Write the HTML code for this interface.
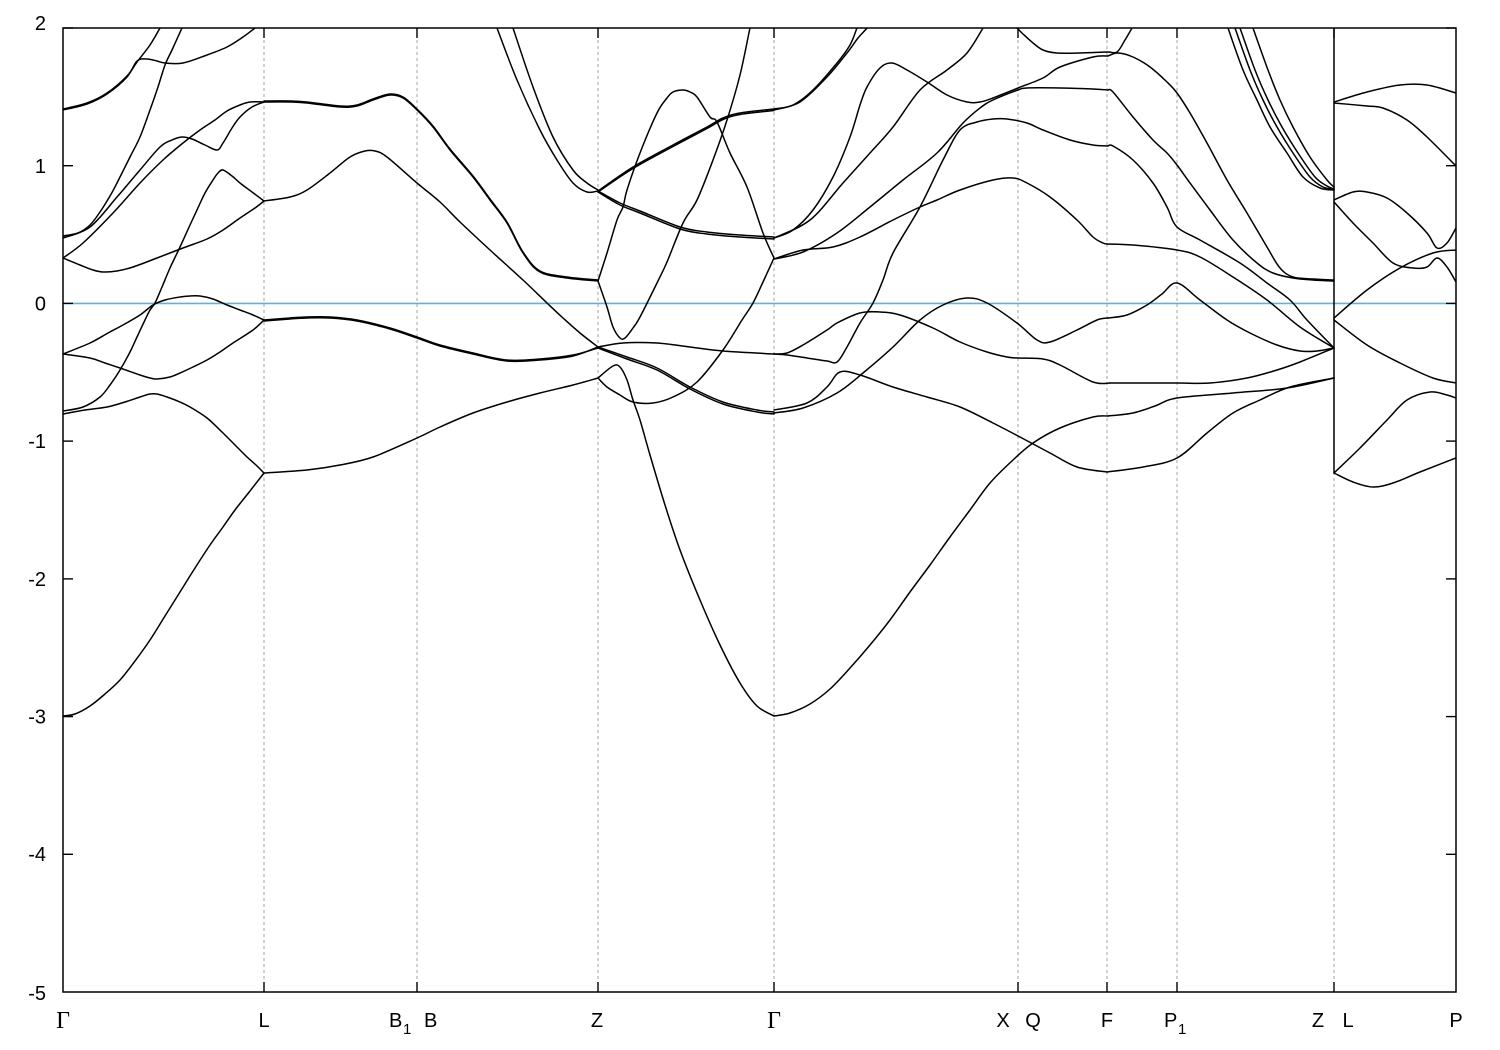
<!DOCTYPE html>
<html>
<head>
<meta charset="utf-8">
<style>
  html,body{margin:0;padding:0;background:#fff;}
  svg{display:block;}
  .lbl{font-family:"Liberation Sans",Arial,sans-serif;font-size:20px;fill:#000;}
  .sub{font-family:"Liberation Sans",Arial,sans-serif;font-size:15px;fill:#000;}
  .sym{font-family:"Liberation Serif","Times New Roman",serif;font-size:24px;fill:#000;}
  .b{fill:none;stroke:#000;stroke-width:1.5;stroke-linejoin:round;stroke-linecap:round;}
  .g{stroke:#a0a0a0;stroke-width:1;stroke-dasharray:3,3;}
</style>
</head>
<body>
<svg width="1500" height="1050" viewBox="0 0 1500 1050" xmlns="http://www.w3.org/2000/svg">
  <defs>
    <clipPath id="pc"><rect x="63" y="28" width="1393" height="964"/></clipPath>
  </defs>
  <rect width="1500" height="1050" fill="#fff"/>

  <!-- grid lines -->
  <g class="g">
    <line x1="264" y1="28" x2="264" y2="992"/>
    <line x1="417" y1="28" x2="417" y2="992"/>
    <line x1="598" y1="28" x2="598" y2="992"/>
    <line x1="774" y1="28" x2="774" y2="992"/>
    <line x1="1018" y1="28" x2="1018" y2="992"/>
    <line x1="1107" y1="28" x2="1107" y2="992"/>
    <line x1="1177" y1="28" x2="1177" y2="992"/>
    <line x1="1334" y1="28" x2="1334" y2="992"/>
  </g>

  <!-- zero line -->
  <line x1="63" y1="303.4" x2="1456" y2="303.4" stroke="#56b4e9" stroke-width="1.6"/>

  <g clip-path="url(#pc)" class="b" id="bands">
    <!-- Gamma - L -->
    <polyline points="63,109 87,103 107,93 127,76 137,62 150,45 160,28 163,22"/>
    <polyline points="63,110 87,104 107,94 127,77 137,61 147,59 157,61 165,63 183,63 207,55 227,47 243,37 255,28 260,24"/>
    <polyline points="63,236 78,233 90,225 100,212 110,196 117,183 130,157 140,137 150,110 158,87 165,65 172,50 182,28 185,22"/>
    <polyline points="63,238 90,227 117,197 140,170 160,147 172,140 182,137 192,139 205,145 217,150 223,143 232,128 240,117 252,107 264,102"/>
    <polyline points="63,258 83,243 113,213 140,183 163,160 183,143 200,130 215,120 227,111 240,105 250,102 264,102"/>
    <polyline points="63,258 80,265 93,270 103,272 117,271 133,267 157,258 183,248 207,239 223,230 240,218 255,208 264,201"/>
    <polyline points="63,411 83,407 100,397 110,385 120,370 130,352 137,337 145,320 150,310 155,303 162,287 170,268 180,247 190,225 197,210 205,193 213,180 218,173 223,170 232,176 240,183 252,192 264,201"/>
    <polyline points="63,354 90,343 108,333 123,325 140,315 153,305 165,300 180,297 190,296 200,296 213,299 227,305 240,310 253,315 264,320"/>
    <polyline points="63,354 90,358 105,363 120,368 140,375 150,378 157,379 170,377 180,373 193,367 207,360 220,352 233,343 253,330 264,320"/>
    <polyline points="63,414 85,410 107,407 125,402 140,397 150,394 157,394 167,397 180,402 190,407 207,418 223,433 235,445 247,457 256,465 264,473"/>
    <polyline points="63,716 75,714 90,706 105,694 120,680 135,661 150,640 165,616 180,592 195,568 210,545 223,527 235,510 250,491 264,473"/>

    <!-- L - B - Z -->
    <polyline points="264,102 290,102 307,103 340,107 357,106 373,100 390,95 403,98 417,110 433,127 450,150 473,177 490,200 507,223 523,253 540,272 567,278 598,281"/>
    <polyline points="264,101 290,101 307,102 340,106 357,105 373,99 390,94 403,97 417,109 433,126 450,149 473,176 490,199 507,222 523,252 540,271 567,277 598,280"/>
    <polyline points="264,201 290,197 307,190 330,173 350,157 365,151 375,151 387,157 417,183 440,202 460,222 490,250 523,280 547,303 563,318 580,333 598,347"/>
    <polyline points="264,320 290,318 307,317 330,317 357,320 390,328 417,337 440,345 473,353 507,360 540,359 573,355 598,348"/>
    <polyline points="264,321 290,319 307,318 330,318 357,321 390,329 417,338 440,346 473,354 507,361 540,360 573,356 598,347"/>
    <polyline points="264,473 307,470 340,465 373,457 417,438 440,427 473,413 507,402 540,393 573,385 598,378"/>
    <polyline points="495,22 497,28 517,80 540,130 557,160 573,183 587,192 598,191"/>
    <polyline points="511,22 513,28 533,87 553,137 573,170 587,183 598,190"/>

    <!-- Z - Gamma -->
    <polyline points="598,191 633,167 673,145 707,127 723,118 740,113 774,109"/>
    <polyline points="598,192 633,168.5 673,146.5 707,128.5 723,119.5 740,114.5 774,110.5"/>
    <polyline points="598,191 620,203 640,211 680,227 707,232 740,235 774,237"/>
    <polyline points="598,192 620,205 640,213 680,229 707,234 740,237 774,239"/>
    <polyline points="598,281 607,253 617,220 623,207 627,190 640,153 657,113 667,98 673,92 683,90 690,92 697,97 710,117 717,122 730,153 747,187 763,233 774,258"/>
    <polyline points="598,281 607,307 613,327 620,338 625,338 633,328 640,317 657,283 667,262 683,223 697,200 713,160 727,120 740,75 750,28 752,22"/>
    <polyline points="598,347 623,343 657,343 690,347 723,351 774,354"/>
    <polyline points="598,347 627,357 657,368 690,387 723,402 757,410 774,412"/>
    <polyline points="598,348 627,359 657,370 690,389 723,404 757,412 774,414"/>
    <polyline points="598,378 613,366 620,367 627,380 633,400 640,420 650,455 665,505 680,550 700,600 720,645 740,683 757,706 774,716"/>
    <polyline points="598,378 607,387 620,395 633,402 653,403 673,397 697,382 723,350 742,320 753,303 763,282 774,258"/>

    <!-- Gamma - X - F -->
    <polyline points="774,109 793,105 813,90 837,63 850,45 857,28 860,22"/>
    <polyline points="774,110 800,102 827,77 847,53 858,38 867,28 870,22"/>
    <polyline points="774,238 793,230 813,210 833,177 850,137 860,105 867,87 880,68 892,63 907,70 927,82 947,95 967,102 980,102 993,98 1018,88 1043,78 1060,67 1093,57 1108,56"/>
    <polyline points="774,238 810,220 843,183 870,153 893,127 920,90 947,70 967,53 983,28 986,22"/>
    <polyline points="774,259 803,250 833,247 860,237 893,220 920,207 937,200 960,190 993,180 1013,178 1027,183 1050,197 1077,220 1093,237 1103,243 1107,244"/>
    <polyline points="774,259 803,252 837,233 870,207 903,180 937,153 963,123 980,108 993,100 1018,90 1027,88 1060,88 1093,89 1108,90"/>
    <polyline points="774,354 787,355 807,358 827,361 837,362 847,347 860,323 873,303 883,280 893,253 920,207 943,160 960,130 977,122 993,119 1007,119 1027,123 1043,130 1070,140 1093,145 1108,146"/>
    <polyline points="774,354 787,353 803,345 827,330 837,323 860,313 880,312 900,315 933,328 960,342 987,352 1007,357 1018,358 1043,359 1060,365 1093,382 1110,383"/>
    <polyline points="774,410 807,403 827,387 840,372 860,375 893,387 927,397 960,407 993,423 1020,437 1050,453 1077,467 1107,472"/>
    <polyline points="774,413 803,408 837,393 863,373 893,347 920,320 943,305 967,298 987,303 1017,323 1037,340 1050,342 1077,330 1097,320 1108,318"/>
    <polyline points="774,716 790,713 810,704 830,689 850,668 870,645 890,620 910,592 930,565 950,537 970,510 990,483 1013,460 1033,443 1060,428 1093,417 1108,416"/>
    <polyline points="1010,22 1018,29 1023,34 1033,43 1043,50 1057,53 1080,53 1107,52 1117,52 1125,40 1132,28 1135,22"/>

    <!-- F - P1 - Z -->
    <polyline points="1108,56 1118,53 1133,57 1150,67 1167,82 1177,93 1190,113 1207,143 1227,180 1247,213 1267,247 1280,268 1293,277 1313,279 1334,280"/>
    <polyline points="1108,90 1113,92 1133,117 1153,140 1167,153 1177,165 1190,183 1210,210 1233,240 1257,263 1273,273 1293,278 1313,280 1334,281"/>
    <polyline points="1108,146 1113,146 1133,160 1153,183 1167,207 1177,227 1200,240 1240,263 1267,283 1290,300 1307,320 1334,348"/>
    <polyline points="1107,244 1133,245 1177,250 1200,257 1233,277 1267,300 1300,327 1334,348"/>
    <polyline points="1108,318 1127,315 1147,305 1162,294 1177,283 1200,300 1227,320 1250,333 1277,345 1300,351 1317,351 1334,348"/>
    <polyline points="1110,383 1133,383 1177,383 1210,383 1247,378 1277,370 1300,362 1334,348"/>
    <polyline points="1108,416 1133,413 1155,406 1177,398 1233,393 1287,388 1334,378"/>
    <polyline points="1107,472 1143,467 1177,458 1207,433 1233,413 1260,400 1290,387 1334,378"/>
    <polyline points="1226,22 1228,28 1243,70 1257,100 1270,127 1287,153 1303,177 1320,188 1334,190"/>
    <polyline points="1233,22 1235,28 1250,70 1263,100 1277,127 1293,153 1310,177 1323,187 1334,189"/>
    <polyline points="1238,22 1240,28 1255,70 1268,100 1282,127 1298,153 1315,177 1327,186 1334,189"/>
    <polyline points="1251,22 1253,28 1268,70 1280,100 1293,127 1310,157 1327,180 1334,187"/>

    <!-- Z|L - P -->
    <polyline points="1334,102 1367,92 1400,85 1427,85 1456,93"/>
    <polyline points="1334,103 1367,106 1383,108 1407,120 1427,137 1456,166"/>
    <polyline points="1334,200 1353,192 1367,192 1387,198 1407,213 1427,233 1437,248 1447,243 1456,228"/>
    <polyline points="1334,202 1353,223 1373,243 1393,263 1413,268 1427,267 1437,258 1447,267 1456,282"/>
    <polyline points="1334,318 1367,290 1400,268 1433,253 1456,250"/>
    <polyline points="1334,320 1367,345 1400,363 1433,378 1456,383"/>
    <polyline points="1334,473 1360,448 1387,420 1407,400 1430,392 1447,395 1456,398"/>
    <polyline points="1334,473 1353,482 1373,487 1393,483 1420,472 1456,458"/>
  </g>
  <line x1="1334" y1="28" x2="1334" y2="473" stroke="#000" stroke-width="1.5"/>

  <!-- ticks -->
  <g stroke="#000" stroke-width="1.4">
    <line x1="63" y1="28" x2="73" y2="28"/><line x1="1446" y1="28" x2="1456" y2="28"/>
    <line x1="63" y1="165.7" x2="73" y2="165.7"/><line x1="1446" y1="165.7" x2="1456" y2="165.7"/>
    <line x1="63" y1="303.4" x2="73" y2="303.4"/><line x1="1446" y1="303.4" x2="1456" y2="303.4"/>
    <line x1="63" y1="441.1" x2="73" y2="441.1"/><line x1="1446" y1="441.1" x2="1456" y2="441.1"/>
    <line x1="63" y1="578.9" x2="73" y2="578.9"/><line x1="1446" y1="578.9" x2="1456" y2="578.9"/>
    <line x1="63" y1="716.6" x2="73" y2="716.6"/><line x1="1446" y1="716.6" x2="1456" y2="716.6"/>
    <line x1="63" y1="854.3" x2="73" y2="854.3"/><line x1="1446" y1="854.3" x2="1456" y2="854.3"/>

    <line x1="264" y1="992" x2="264" y2="982"/><line x1="264" y1="28" x2="264" y2="38"/>
    <line x1="417" y1="992" x2="417" y2="982"/><line x1="417" y1="28" x2="417" y2="38"/>
    <line x1="598" y1="992" x2="598" y2="982"/><line x1="598" y1="28" x2="598" y2="38"/>
    <line x1="774" y1="992" x2="774" y2="982"/><line x1="774" y1="28" x2="774" y2="38"/>
    <line x1="1018" y1="992" x2="1018" y2="982"/><line x1="1018" y1="28" x2="1018" y2="38"/>
    <line x1="1107" y1="992" x2="1107" y2="982"/><line x1="1107" y1="28" x2="1107" y2="38"/>
    <line x1="1177" y1="992" x2="1177" y2="982"/><line x1="1177" y1="28" x2="1177" y2="38"/>
    <line x1="1334" y1="992" x2="1334" y2="982"/><line x1="1334" y1="28" x2="1334" y2="38"/>
  </g>

  <!-- border -->
  <rect x="63" y="28" width="1393" height="964" fill="none" stroke="#000" stroke-width="1.5"/>

  <!-- y labels -->
  <g class="lbl" text-anchor="end">
    <text x="46" y="30">2</text>
    <text x="46" y="173">1</text>
    <text x="46" y="310.5">0</text>
    <text x="46" y="448">-1</text>
    <text x="46" y="586">-2</text>
    <text x="46" y="723.5">-3</text>
    <text x="46" y="861">-4</text>
    <text x="46" y="1000">-5</text>
  </g>

  <!-- x labels -->
  <text class="sym" x="63" y="1028" text-anchor="middle">Γ</text>
  <text class="lbl" x="264" y="1027" text-anchor="middle">L</text>
  <text class="lbl" x="389" y="1027">B</text>
  <text class="sub" x="403" y="1034">1</text>
  <text class="lbl" x="424" y="1027">B</text>
  <text class="lbl" x="597" y="1027" text-anchor="middle">Z</text>
  <text class="sym" x="774" y="1028" text-anchor="middle">Γ</text>
  <text class="lbl" x="1003" y="1027" text-anchor="middle">X</text>
  <text class="lbl" x="1033" y="1027" text-anchor="middle">Q</text>
  <text class="lbl" x="1107" y="1027" text-anchor="middle">F</text>
  <text class="lbl" x="1164" y="1027">P</text>
  <text class="sub" x="1178" y="1034">1</text>
  <text class="lbl" x="1318" y="1027" text-anchor="middle">Z</text>
  <text class="lbl" x="1348" y="1027" text-anchor="middle">L</text>
  <text class="lbl" x="1456" y="1027" text-anchor="middle">P</text>
</svg>
<script>
(function(){
  var NS="http://www.w3.org/2000/svg";
  var pls=document.querySelectorAll('#bands polyline');
  for(var k=0;k<pls.length;k++){
    var pl=pls[k];
    var pts=pl.getAttribute('points').trim().split(/\s+/).map(function(p){return p.split(',').map(Number);});
    if(pts.length<3) continue;
    var d='M'+pts[0][0]+','+pts[0][1];
    for(var i=0;i<pts.length-1;i++){
      var p0=pts[i-1]||pts[i], p1=pts[i], p2=pts[i+1], p3=pts[i+2]||pts[i+1];
      var c1x=p1[0]+(p2[0]-p0[0])/6, c1y=p1[1]+(p2[1]-p0[1])/6;
      var c2x=p2[0]-(p3[0]-p1[0])/6, c2y=p2[1]-(p3[1]-p1[1])/6;
      d+=' C'+c1x.toFixed(2)+','+c1y.toFixed(2)+' '+c2x.toFixed(2)+','+c2y.toFixed(2)+' '+p2[0]+','+p2[1];
    }
    var path=document.createElementNS(NS,'path');
    path.setAttribute('d',d);
    pl.parentNode.replaceChild(path,pl);
  }
})();
</script>
</body>
</html>
